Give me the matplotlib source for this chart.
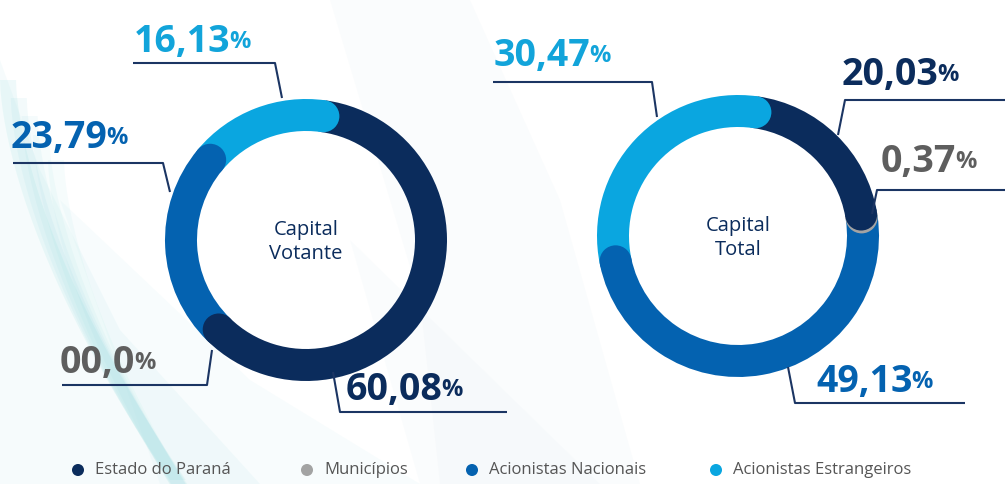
import matplotlib
matplotlib.use("Agg")
import matplotlib.pyplot as plt
import numpy as np
from matplotlib.patches import Circle, Polygon

# ---------------- data ----------------
categories = ["Estado do Paraná", "Municípios", "Acionistas Nacionais", "Acionistas Estrangeiros"]
votante_values = [60.08, 0.00, 23.79, 16.13]
total_values = [20.03, 0.37, 49.13, 30.47]
votante_labels = ["60,08", "00,0", "23,79", "16,13"]
total_labels = ["20,03", "0,37", "49,13", "30,47"]
chart_titles = ["Capital\nVotante", "Capital\nTotal"]

# ---------------- style ----------------
NAVY = "#0b2c5c"
MED = "#0462b0"
LIGHT = "#0aa6e0"
GREY = "#a3a3a3"
seg_colors = [NAVY, GREY, MED, LIGHT]
text_colors = [NAVY, "#5e5e5e", MED, "#12a4da"]
LINE = "#1b3563"

plt.rcParams['font.family'] = ['Open Sans', 'DejaVu Sans']

W, H = 1005, 484
fig = plt.figure(figsize=(W / 100, H / 100), dpi=100)
ax = fig.add_axes([0, 0, 1, 1])
ax.set_xlim(0, W)
ax.set_ylim(0, H)
ax.axis('off')


def Y(y):
    return H - y


# ---------------- background waves ----------------
def band(pts, color, alpha):
    ax.add_patch(Polygon([(x, Y(y)) for x, y in pts], closed=True, facecolor=color,
                         edgecolor='none', alpha=alpha, zorder=0))

t = np.linspace(0, 1, 40)
# left streaks
for off, a in [(0, 0.09), (18, 0.07), (36, 0.06), (55, 0.05), (80, 0.05)]:
    xs1 = 0 + off * 0.6 + 170 * t ** 1.6
    ys1 = 80 + off + 400 * t
    xs2 = xs1 + 16
    pts = list(zip(xs1, ys1)) + list(zip(xs2[::-1], ys1[::-1]))
    band(pts, "#58c6cf", a)
band([(0, 60), (0, 484), (260, 484), (120, 330), (40, 170)], "#8fd8de", 0.08)
band([(60, 200), (160, 484), (420, 484), (250, 380)], "#a9e0e6", 0.08)
band([(330, 0), (470, 0), (560, 200), (640, 484), (440, 484), (420, 300)], "#dbe8ef", 0.12)
band([(350, 240), (600, 484), (420, 484)], "#d6e8ee", 0.10)

# ---------------- donuts ----------------
R = 141
WIDTH = 32
START = 82  # degrees (counter-clockwise from x axis)
centers = [(306, Y(240)), (738, Y(236))]
datasets = [votante_values, total_values]

for center, vals, title in zip(centers, datasets, chart_titles):
    ax.pie(vals, colors=seg_colors, startangle=START, counterclock=False, radius=R,
           center=center, frame=True,
           wedgeprops=dict(width=WIDTH, linewidth=0))
    total = sum(vals)
    cum = np.cumsum(vals)
    rmid = R - WIDTH / 2
    caps = []
    for i, v in enumerate(vals):
        if v <= 0:
            continue
        ang = np.deg2rad(START - 360 * cum[i] / total)
        caps.append((i, ang))
    for k, (i, ang) in enumerate(reversed(caps)):
        ax.add_patch(Circle((center[0] + rmid * np.cos(ang), center[1] + rmid * np.sin(ang)),
                            WIDTH / 2, facecolor=seg_colors[i], edgecolor='none', zorder=3 + k * 0.1))
    ax.text(center[0], center[1] - 2, title, ha='center', va='center', fontsize=14.5,
            color=NAVY, linespacing=1.3, zorder=5)

ax.set_xlim(0, W)
ax.set_ylim(0, H)
ax.set_aspect('auto')


# ---------------- labels ----------------
def label(x, yb, txt, color):
    t1 = ax.text(x, Y(yb), txt, fontsize=27, fontweight='bold', color=color,
                 ha='left', va='baseline', zorder=6)
    ax.annotate('%', xy=(1, 0), xycoords=t1, xytext=(-1.0, 5.2), textcoords='offset points',
                fontsize=17, fontweight='bold', color=color, ha='left', va='bottom', zorder=6)


def leader(pts):
    ax.plot([p[0] for p in pts], [Y(p[1]) for p in pts], color=LINE, lw=1.5,
            solid_capstyle='butt', zorder=4)

# left chart (order: Estado, Municípios, Nacionais, Estrangeiros)
label_pos_left = [(346, 400), (60, 373), (11, 148), (134, 52)]
leader_left = [
    [(333, 372), (340, 412), (507, 412)],
    [(212, 350), (207, 385), (62, 385)],
    [(170, 192), (163, 163), (13, 163)],
    [(282, 98), (275, 63), (133, 63)],
]
for (x, yb), txt, c in zip(label_pos_left, votante_labels, text_colors):
    label(x, yb, txt, c)
for pts in leader_left:
    leader(pts)

label_pos_right = [(842, 85), (881, 172), (816, 392), (494, 66)]
leader_right = [
    [(838, 135), (845, 100), (1005, 100)],
    [(872, 214), (877, 190), (1005, 190)],
    [(788, 367), (795, 403), (965, 403)],
    [(657, 117), (652, 82), (493, 82)],
]
for (x, yb), txt, c in zip(label_pos_right, total_labels, text_colors):
    label(x, yb, txt, c)
for pts in leader_right:
    leader(pts)

# ---------------- legend ----------------
legend_x = [78, 307, 472, 716]
for lx, cat, col in zip(legend_x, categories, seg_colors):
    ax.scatter([lx], [Y(470)], s=75, color=col, edgecolors='none', zorder=6)
    ax.text(lx + 17, Y(470), cat, fontsize=12, color="#555555", ha='left', va='center', zorder=6)

fig.savefig("out.png", dpi=100, facecolor='white')
